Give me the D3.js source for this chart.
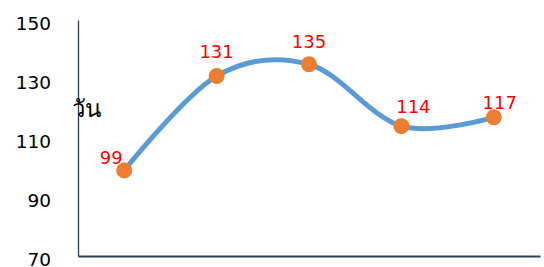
<!DOCTYPE html>
<html>
<head>
<meta charset="utf-8">
<script src="https://cdn.jsdelivr.net/npm/d3@7"></script>
<style>
  html, body { margin: 0; padding: 0; background: #fff; }
  svg { display: block; }
  text { font-family: "DejaVu Sans", Tahoma, Verdana, sans-serif; }
</style>
</head>
<body>
<script>
const categories = ["1", "2", "3", "4", "5"];
const values = [99, 131, 135, 114, 117];
const yTicks = [70, 90, 110, 130, 150];
const yLabel = "วัน";

const W = 544, H = 267;
const m = { left: 78, right: 4, top: 20, bottom: 11 };

const svg = d3.select("body").append("svg")
  .attr("width", W).attr("height", H);

const x = d3.scaleBand().domain(categories)
  .range([m.left, W - m.right]).paddingInner(0).paddingOuter(0);
const y = d3.scaleLinear().domain([70, 150]).range([H - m.bottom, m.top]);

// Y axis
const yAxis = d3.axisLeft(y).tickValues(yTicks).tickSize(0).tickPadding(27).tickFormat(d3.format("d"));
const gy = svg.append("g").attr("transform", `translate(${m.left},0)`).call(yAxis);
gy.select(".domain").attr("stroke", "#2E3B55").attr("stroke-width", 1.3);
gy.selectAll("text").attr("font-size", 18.5).attr("fill", "#000")
  .attr("font-family", "'DejaVu Sans', Tahoma, sans-serif")
  .attr("transform", "translate(0,3.5)");

// X axis
const xAxis = d3.axisBottom(x).tickSize(0).tickFormat("");
const gx = svg.append("g").attr("transform", `translate(0,${H - m.bottom})`).call(xAxis);
gx.select(".domain").attr("stroke", "#2E3B55").attr("stroke-width", 1.8);

// Y label
svg.append("text").attr("x", 86).attr("y", 117)
  .attr("text-anchor", "middle").attr("font-size", 24).attr("fill", "#000")
  .attr("font-family", "'Noto Sans Thai', 'Tahoma', 'Loma', 'Garuda', 'Norasi', sans-serif")
  .text(yLabel);

// Line
const line = d3.line()
  .x((d, i) => x(categories[i]) + x.bandwidth() / 2)
  .y(d => y(d))
  .curve(d3.curveCardinal.tension(0));

svg.append("path").datum(values)
  .attr("d", line)
  .attr("fill", "none")
  .attr("stroke", "#5B9BD5")
  .attr("stroke-width", 5)
  .attr("stroke-linecap", "round");

// Markers
svg.selectAll("circle.pt").data(values).enter().append("circle")
  .attr("class", "pt")
  .attr("cx", (d, i) => x(categories[i]) + x.bandwidth() / 2)
  .attr("cy", d => y(d))
  .attr("r", 8)
  .attr("fill", "#ED7D31");

// Data labels (placement offsets relative to point)
const labelDx = [-13, 0, 0, 12, 6];
const labelDy = [-6, -18, -16, -13, -8];
svg.selectAll("text.lbl").data(values).enter().append("text")
  .attr("class", "lbl")
  .attr("x", (d, i) => x(categories[i]) + x.bandwidth() / 2 + labelDx[i])
  .attr("y", (d, i) => y(d) + labelDy[i])
  .attr("text-anchor", "middle")
  .attr("font-size", 18)
  .attr("fill", "#FF0000")
  .text(d => d);
</script>
</body>
</html>
